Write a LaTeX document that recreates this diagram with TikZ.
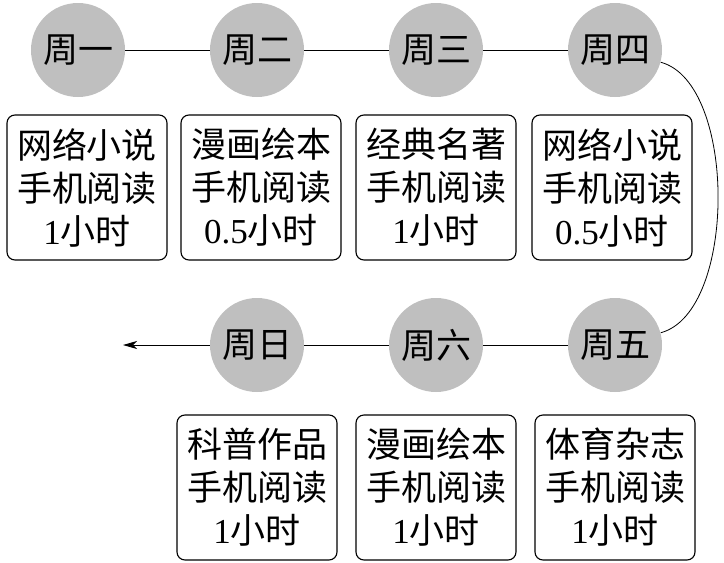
\documentclass[tikz,border=0pt]{standalone}
\usepackage{fontspec}
\setmainfont{Liberation Serif}
\newfontfamily\cjk{Noto Sans CJK SC}
\usetikzlibrary{positioning,arrows.meta}

\begin{document}
\begin{tikzpicture}[-,auto,node distance=179pt,
                    thick,day node/.style={circle,fill=gray!50,minimum size=94pt,inner sep=0pt,font=\cjk\fontsize{35}{35}\selectfont},
                    book node/.style={draw,line width=1.1pt,rounded corners=8pt,minimum width=160pt,minimum height=145pt,inner sep=0pt,align=center,font=\fontsize{35}{43}\selectfont}]

  \useasboundingbox (0,0) rectangle (724pt,-563pt);

  \node[day node] (1) at (78pt,-50pt) {周一};
  \node[day node] (2) [right of=1] {周二};
  \node[day node] (3) [right of=2] {周三};
  \node[day node] (4) [right of=3] {周四};
  \node[day node] (5) at (615pt,-345pt) {周五};
  \node[day node] (6) [left of=5] {周六};
  \node[day node] (7) [left of=6] {周日};

  \node[book node] (8) [node distance=137.5pt, below of=1, xshift=9pt] {{\cjk 网络小说}\\{\cjk 手机阅读}\\1{\cjk 小时}};
  \node[book node] (9) [node distance=137.5pt, below of=2, xshift=4pt] {{\cjk 漫画绘本}\\{\cjk 手机阅读}\\0.5{\cjk 小时}};
  \node[book node] (10) [node distance=137.5pt, below of=3] {{\cjk 经典名著}\\{\cjk 手机阅读}\\1{\cjk 小时}};
  \node[book node] (11) [node distance=137.5pt, below of=4, xshift=-3pt] {{\cjk 网络小说}\\{\cjk 手机阅读}\\0.5{\cjk 小时}};
  \node[book node] (12) [node distance=142.5pt, below of=5] {{\cjk 体育杂志}\\{\cjk 手机阅读}\\1{\cjk 小时}};
  \node[book node] (13) [node distance=142.5pt, below of=6] {{\cjk 漫画绘本}\\{\cjk 手机阅读}\\1{\cjk 小时}};
  \node[book node] (14) [node distance=142.5pt, below of=7] {{\cjk 科普作品}\\{\cjk 手机阅读}\\1{\cjk 小时}};

  \coordinate (end) at (123pt,-345pt);

  \path
    (1) edge (2)
    (2) edge (3)
    (3) edge (4)
    (5) edge (6)
    (6) edge (7);
  \draw (4) to[out=-15,in=15,looseness=0.75] (5);
  \draw[-{Stealth[length=14pt,width=8pt,inset=4pt]}] (7) -- (end);

\end{tikzpicture}
\end{document}
